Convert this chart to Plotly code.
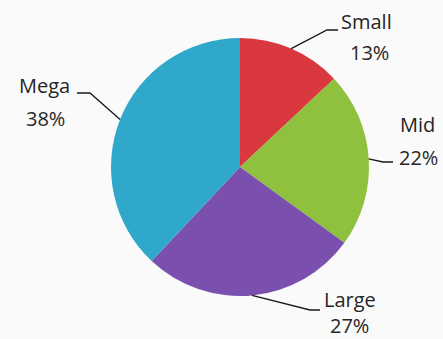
import math
import plotly.graph_objects as go

# Share of funds by market-cap bucket
categories = ["Small", "Mid", "Large", "Mega"]
values = [13, 22, 27, 38]
colors = ["#D8383E", "#8FC03E", "#7A4FAE", "#30A8CB"]

W, H = 443, 339
CX, CY, R = 240, 167, 129  # pie centre and radius in pixels

# label placement: (name centre, percent centre, elbow, line end) in pixels
label_layout = {
    "Small": ((366, 21), (369, 52), (327, 30), (338, 30)),
    "Mid": ((417, 124), (418, 157), (383, 162), (393, 162)),
    "Large": ((350, 299), (349, 325), (310, 310), (320, 310)),
    "Mega": ((44, 85), (45, 118), (90, 93), (77, 93)),
}

fig = go.Figure()
fig.add_trace(go.Pie(
    labels=categories,
    values=values,
    sort=False,
    direction="clockwise",
    rotation=0,
    marker=dict(colors=colors, line=dict(width=0)),
    textinfo="none",
    hoverinfo="label+percent",
    showlegend=False,
    domain=dict(
        x=[(CX - R) / W, (CX + R) / W],
        y=[(H - CY - R) / H, (H - CY + R) / H],
    ),
))

font = dict(family="Open Sans", size=20, color="#262626")
shapes = []
annotations = []
total = sum(values)
cum = 0
for name, v in zip(categories, values):
    mid = (cum + v / 2) / total * 2 * math.pi
    cum += v
    ex = CX + R * math.sin(mid)
    ey = CY - R * math.cos(mid)
    (nx, ny), (px, py), (bx, by), (tx, ty) = label_layout[name]
    shapes.append(dict(
        type="path", xref="x", yref="y",
        path=f"M {ex:.1f} {ey:.1f} L {bx} {by} L {tx} {ty}",
        line=dict(color="#1a1a1a", width=1.3),
    ))
    pct = round(v / total * 100)
    annotations.append(dict(x=nx, y=ny, xref="x", yref="y", text=name,
                            showarrow=False, font=font,
                            xanchor="center", yanchor="middle"))
    annotations.append(dict(x=px, y=py, xref="x", yref="y", text=f"{pct}%",
                            showarrow=False, font=font,
                            xanchor="center", yanchor="middle"))

fig.update_layout(
    width=W, height=H,
    margin=dict(l=0, r=0, t=0, b=0),
    paper_bgcolor="#FAFAFA",
    plot_bgcolor="rgba(0,0,0,0)",
    xaxis=dict(range=[0, W], visible=False, fixedrange=True),
    yaxis=dict(range=[H, 0], visible=False, fixedrange=True),
    shapes=shapes,
    annotations=annotations,
)

fig.write_html("out.html")
